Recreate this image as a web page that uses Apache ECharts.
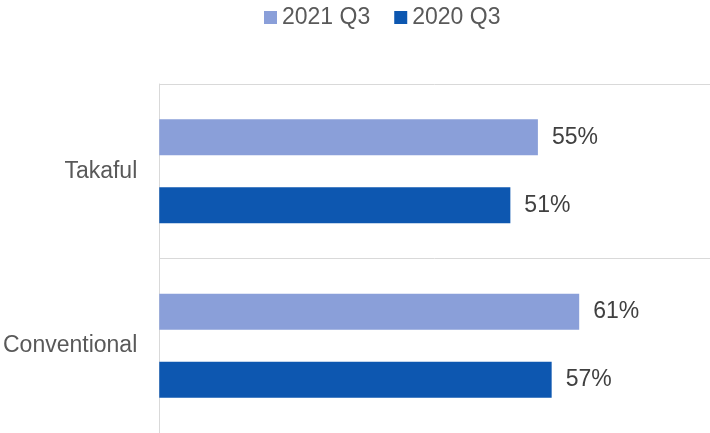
<!DOCTYPE html>
<html>
<head>
<meta charset="utf-8">
<script src="https://cdn.jsdelivr.net/npm/echarts@6/dist/echarts.min.js"></script>
<style>
  html, body { margin: 0; padding: 0; background: #fff; }
  #chart { width: 710px; height: 433px; }
</style>
</head>
<body>
<div id="chart"></div>
<script>
// Market share by segment, third quarter comparison
const categories = ['Takaful', 'Conventional'];
const seriesNames = ['2021 Q3', '2020 Q3'];
const values2021Q3 = [55, 61];
const values2020Q3 = [51, 57];

const font = '"Liberation Sans", Arial, sans-serif';

const chart = echarts.init(document.getElementById('chart'), null, { renderer: 'canvas' });

const labelStyle = {
  show: true,
  position: 'right',
  distance: 14,
  formatter: p => p.value + '%',
  color: '#404040',
  fontSize: 23,
  fontFamily: font
};

chart.setOption({
  animation: false,
  legend: {
    top: 1,
    left: 259,
    itemWidth: 13,
    itemHeight: 13,
    itemGap: 24,
    icon: 'rect',
    textStyle: { color: '#595959', fontSize: 23, fontFamily: font },
    data: seriesNames
  },
  grid: { left: 155, right: 0, top: 84, bottom: -1, containLabel: false },
  xAxis: {
    type: 'value',
    min: 0,
    max: 80,
    show: false
  },
  yAxis: {
    type: 'category',
    inverse: true,
    data: categories,
    axisLine: { show: true, lineStyle: { color: '#D9D9D9', width: 1 } },
    axisTick: { show: false },
    splitLine: { show: true, lineStyle: { color: '#D9D9D9', width: 1 } },
    axisLabel: { color: '#595959', fontSize: 23, fontFamily: font, margin: 22 }
  },
  series: [
    {
      name: seriesNames[0],
      type: 'bar',
      data: values2021Q3,
      barWidth: 36,
      barGap: '89%',
      itemStyle: { color: '#8A9FD9' },
      label: labelStyle
    },
    {
      name: seriesNames[1],
      type: 'bar',
      data: values2020Q3,
      barWidth: 36,
      barGap: '89%',
      itemStyle: { color: '#0D57B0' },
      label: labelStyle
    }
  ]
});
</script>
</body>
</html>
